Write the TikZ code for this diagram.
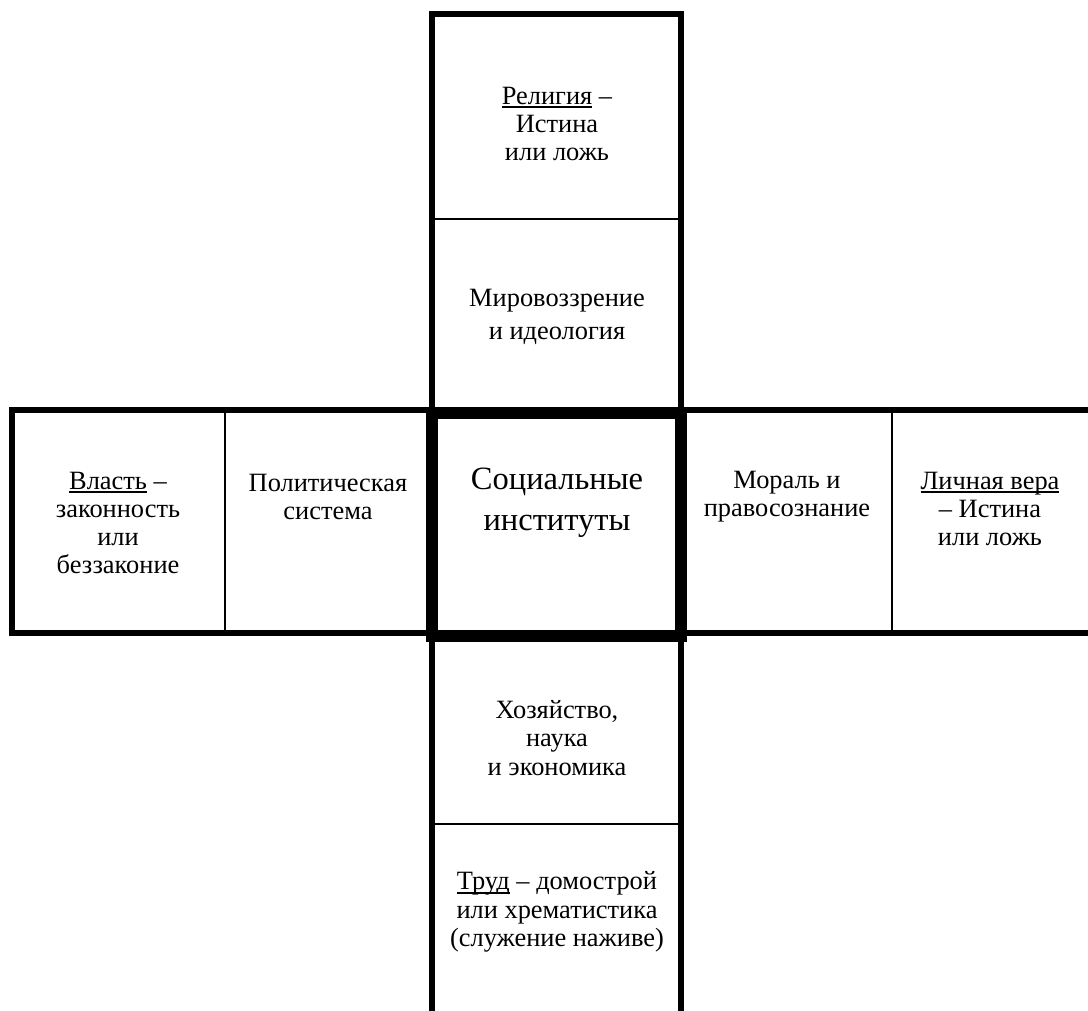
\documentclass[tikz,border=0pt]{standalone}
\usepackage{fontspec}
\setmainfont{Liberation Serif}
\newcommand\myul[1]{\setbox0\hbox{#1}\rlap{\rule[-4pt]{\wd0}{1.8pt}}\box0\relax}
\begin{document}
\begin{tikzpicture}[x=1pt,y=-1pt,
  thickline/.style={line width=6pt},
  thinline/.style={line width=2.7pt},
  boldbox/.style={line width=12pt},
  txt/.style={align=center,font=\fontsize{26.4}{28.3}\selectfont,inner sep=0pt},
  bigtxt/.style={align=center,font=\fontsize{32.5}{41}\selectfont,inner sep=0pt}]
\useasboundingbox (0,0) rectangle (1088,1011);
% top strip
\draw[thickline] (432,410) -- (432,14) -- (681,14) -- (681,410);
\draw[thinline] (432,219) -- (681,219);
% horizontal strip
\draw[thickline] (1088,410) -- (12,410) -- (12,633) -- (1088,633);
\draw[thinline] (225,410) -- (225,633);
\draw[thinline] (892,410) -- (892,633);
% bottom strip
\draw[thickline] (432,636) -- (432,1011);
\draw[thickline] (681,636) -- (681,1011);
\draw[thinline] (432,824) -- (681,824);
% centre box
\draw[boldbox] (432,413) rectangle (681,636);
% texts
\node[txt] (rel) at (557,124) {\myul{Религия} –\\Истина\\или ложь};
\node[txt] (mir) at (557,317) {Мировоззрение\\[4.5pt]и идеология};
\node[txt] (vlast) at (118,523) {\myul{Власть} –\\законность\\или\\беззаконие};
\node[txt] (pol) at (328,497) {Политическая\\система};
\node[bigtxt] (soc) at (557,503) {Социальные\\институты};
\node[txt] (mor) at (787,497) {Мораль и\\правосознание};
\node[txt] (lich) at (990,509) {\myul{Личная вера}\\– Истина\\или ложь};
\node[txt] (hoz) at (557,738) {Хозяйство,\\наука\\и экономика};
\node[txt] (trud) at (557,912) {\myul{Труд} – домострой\\или хрематистика\\(служение наживе)};
\end{tikzpicture}
\end{document}
